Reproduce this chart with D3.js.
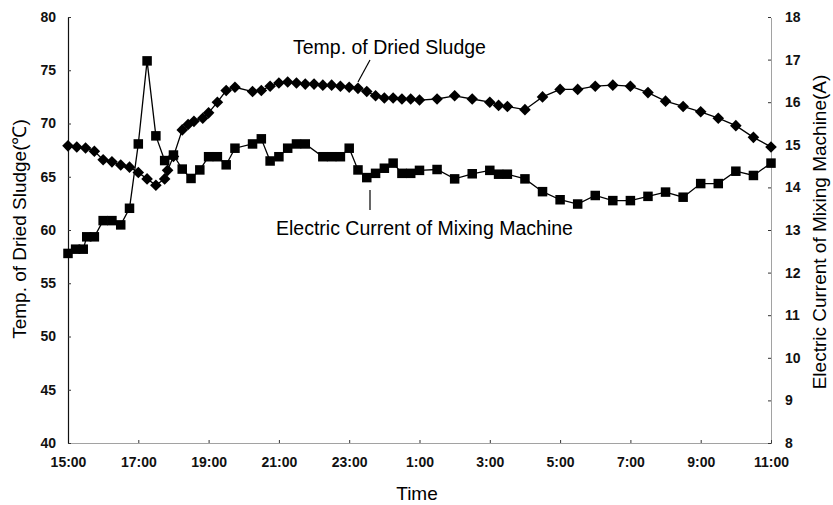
<!DOCTYPE html>
<html>
<head>
<meta charset="utf-8">
<script src="https://cdn.jsdelivr.net/npm/d3@7"></script>
<style>
  body { margin: 0; background: #fff; }
  svg { font-family: "Liberation Sans", Arial, sans-serif; }
  .tick text { font-size: 14px; font-weight: bold; fill: #111; }
</style>
</head>
<body>
<div id="chart"></div>
<script>
// sludge temperature (left axis, degC)
const tempTimes = ["15:00","15:15","15:30","15:45","16:00","16:15","16:30","16:45","17:00","17:15","17:30","17:45","17:50","18:00",
  "18:15","18:25","18:35","18:50","19:00","19:15","19:30","19:45","20:15","20:30","20:45","21:00","21:15","21:30","21:45",
  "22:00","22:15","22:30","22:45","23:00","23:15","23:30","23:45","0:00","0:15","0:30","0:45","1:00","1:30","2:00","2:30",
  "3:00","3:15","3:30","4:00","4:30","5:00","5:30","6:00","6:30","7:00","7:30","8:00","8:30","9:00","9:30","10:00","10:30","11:00"];
const tempValues = [67.9,67.8,67.7,67.4,66.6,66.4,66.1,65.9,65.4,64.8,64.2,64.8,65.6,66.9,
  69.4,69.9,70.2,70.5,71.0,72.0,73.1,73.4,73.0,73.1,73.5,73.8,73.9,73.8,73.7,
  73.7,73.6,73.6,73.5,73.4,73.3,73.0,72.6,72.4,72.4,72.3,72.3,72.2,72.3,72.6,72.3,
  72.0,71.7,71.6,71.3,72.5,73.2,73.2,73.5,73.6,73.5,72.9,72.1,71.6,71.1,70.5,69.8,68.7,67.8];

// mixing machine current (right axis, A)
const currTimes = ["15:00","15:13","15:26","15:32","15:45","16:00","16:15","16:30","16:45","17:00","17:15","17:30","17:45","18:00",
  "18:15","18:30","18:45","19:00","19:15","19:30","19:45","20:15","20:30","20:45","21:00","21:15","21:30","21:45",
  "22:15","22:30","22:45","23:00","23:15","23:30","23:45","0:00","0:15","0:30","0:45","1:00","1:30","2:00","2:30",
  "3:00","3:15","3:30","4:00","4:30","5:00","5:30","6:00","6:30","7:00","7:30","8:00","8:30","9:00","9:30","10:00","10:30","11:00"];
const currValues = [12.45,12.55,12.55,12.84,12.84,13.22,13.22,13.12,13.51,15.02,16.97,15.21,14.63,14.76,
  14.43,14.21,14.41,14.72,14.72,14.53,14.92,15.02,15.14,14.62,14.72,14.92,15.02,15.02,
  14.72,14.72,14.72,14.92,14.41,14.23,14.33,14.45,14.57,14.33,14.33,14.40,14.42,14.20,14.32,
  14.40,14.31,14.31,14.20,13.90,13.71,13.61,13.81,13.69,13.69,13.79,13.89,13.77,14.09,14.09,14.38,14.28,14.57];

const timeTicks = ["15:00","17:00","19:00","21:00","23:00","1:00","3:00","5:00","7:00","9:00","11:00"];
const tempTicks = [40,45,50,55,60,65,70,75,80];
const currTicks = [8,9,10,11,12,13,14,15,16,17,18];

// "HH:MM" -> date, hours before 15 fall on the next day
function toDate(s) {
  const [h, m] = s.split(":").map(Number);
  return new Date(2000, 0, h < 15 ? 2 : 1, h, m);
}

const width = 833, height = 505;
const pLeft = 68, pRight = 771, pTop = 17, pBottom = 443;

const x = d3.scaleTime().domain([toDate("15:00"), toDate("11:00")]).range([pLeft, pRight]);
const yT = d3.scaleLinear().domain([40, 80]).range([pBottom, pTop]);
const yC = d3.scaleLinear().domain([8, 18]).range([pBottom, pTop]);

const svg = d3.select("#chart").append("svg")
  .attr("width", width)
  .attr("height", height);

// axes
const xAxis = svg.append("g")
  .attr("transform", `translate(0,${pBottom})`)
  .call(d3.axisBottom(x).tickValues(timeTicks.map(toDate))
    .tickFormat(d3.timeFormat("%-H:%M")).tickSizeInner(-3).tickSizeOuter(0).tickPadding(14));
xAxis.select(".domain").attr("stroke", "#444").attr("stroke-dasharray", "1,1");

const lAxis = svg.append("g")
  .attr("transform", `translate(${pLeft},0)`)
  .call(d3.axisLeft(yT).tickValues(tempTicks).tickSizeInner(-3).tickSizeOuter(0).tickPadding(12));
lAxis.select(".domain").attr("stroke", "#111").attr("stroke-width", 1.2);

const rAxis = svg.append("g")
  .attr("transform", `translate(${pRight},0)`)
  .call(d3.axisRight(yC).tickValues(currTicks).tickSizeInner(-3).tickSizeOuter(0).tickPadding(14));
rAxis.select(".domain").attr("stroke", "#444").attr("stroke-dasharray", "1,1");

svg.selectAll(".tick line").attr("stroke", "#333");

// axis titles
svg.append("text")
  .attr("x", 417).attr("y", 500)
  .attr("text-anchor", "middle")
  .style("font-size", "19px")
  .text("Time");

svg.append("text")
  .attr("transform", "translate(26,229) rotate(-90)")
  .attr("text-anchor", "middle")
  .style("font-size", "19px")
  .text("Temp. of Dried Sludge(\u2103)");

svg.append("text")
  .attr("transform", "translate(826,232) rotate(-90)")
  .attr("text-anchor", "middle")
  .style("font-size", "19px")
  .text("Electric Current of Mixing Machine(A)");

// data
const tempData = tempTimes.map((t, i) => ({ date: toDate(t), v: tempValues[i] }));
const currData = currTimes.map((t, i) => ({ date: toDate(t), v: currValues[i] }));

const tLine = d3.line().x(d => x(d.date)).y(d => yT(d.v));
const cLine = d3.line().x(d => x(d.date)).y(d => yC(d.v));

svg.append("path").datum(tempData)
  .attr("fill", "none").attr("stroke", "#000").attr("stroke-width", 1.3)
  .attr("d", tLine);
svg.append("path").datum(currData)
  .attr("fill", "none").attr("stroke", "#000").attr("stroke-width", 1.3)
  .attr("d", cLine);

const dr = 5.8;
svg.append("g").selectAll("path")
  .data(tempData)
  .join("path")
  .attr("transform", d => `translate(${x(d.date)},${yT(d.v)})`)
  .attr("d", `M0,${-dr}L${dr},0L0,${dr}L${-dr},0Z`)
  .attr("fill", "#000");

const sq = 9.5;
svg.append("g").selectAll("rect")
  .data(currData)
  .join("rect")
  .attr("x", d => x(d.date) - sq / 2)
  .attr("y", d => yC(d.v) - sq / 2)
  .attr("width", sq).attr("height", sq)
  .attr("fill", "#000");

// series labels with leader lines
svg.append("text")
  .attr("x", 293).attr("y", 54)
  .style("font-size", "19.5px")
  .text("Temp. of Dried Sludge");
svg.append("line")
  .attr("x1", 370).attr("y1", 60).attr("x2", 358).attr("y2", 82)
  .attr("stroke", "#000").attr("stroke-width", 1.2);

svg.append("text")
  .attr("x", 276).attr("y", 235)
  .style("font-size", "19.5px")
  .text("Electric Current of Mixing Machine");
svg.append("line")
  .attr("x1", 370).attr("y1", 190).attr("x2", 370).attr("y2", 210)
  .attr("stroke", "#000").attr("stroke-width", 1.2);
</script>
</body>
</html>
